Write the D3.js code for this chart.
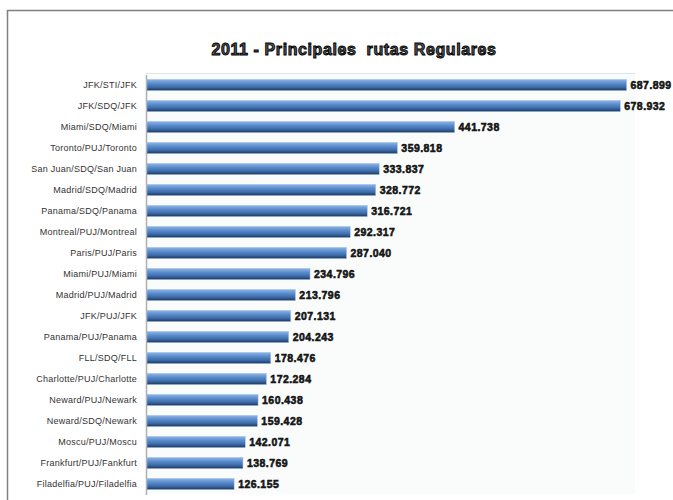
<!DOCTYPE html>
<html>
<head>
<meta charset="utf-8">
<script src="https://cdn.jsdelivr.net/npm/d3@7"></script>
<style>
  body { margin: 0; background: #fff; }
  svg { display: block; font-family: "Liberation Sans", Arial, sans-serif; }
</style>
</head>
<body>
<script>
var title = "2011 - Principales  rutas Regulares";

var routes = [
  "JFK/STI/JFK", "JFK/SDQ/JFK", "Miami/SDQ/Miami", "Toronto/PUJ/Toronto",
  "San Juan/SDQ/San Juan", "Madrid/SDQ/Madrid", "Panama/SDQ/Panama",
  "Montreal/PUJ/Montreal", "Paris/PUJ/Paris", "Miami/PUJ/Miami",
  "Madrid/PUJ/Madrid", "JFK/PUJ/JFK", "Panama/PUJ/Panama", "FLL/SDQ/FLL",
  "Charlotte/PUJ/Charlotte", "Neward/PUJ/Newark", "Neward/SDQ/Newark",
  "Moscu/PUJ/Moscu", "Frankfurt/PUJ/Fankfurt", "Filadelfia/PUJ/Filadelfia"
];

var passengers = [
  687.899, 678.932, 441.738, 359.818, 333.837, 328.772, 316.721, 292.317,
  287.040, 234.796, 213.796, 207.131, 204.243, 178.476, 172.284, 160.438,
  159.428, 142.071, 138.769, 126.155
];

var valueLabels = [
  "687.899", "678.932", "441.738", "359.818", "333.837", "328.772", "316.721",
  "292.317", "287.040", "234.796", "213.796", "207.131", "204.243", "178.476",
  "172.284", "160.438", "159.428", "142.071", "138.769", "126.155"
];

var width = 673, height = 500;
var plot = {left: 146, right: 635, top: 74, bottom: 494};

var svg = d3.select("body").append("svg")
    .attr("width", width)
    .attr("height", height);

// bar gradient
var grad = svg.append("defs").append("linearGradient")
    .attr("id", "barGrad")
    .attr("x1", 0).attr("y1", 0).attr("x2", 0).attr("y2", 1);
grad.append("stop").attr("offset", "0%").attr("stop-color", "#8fb4e3");
grad.append("stop").attr("offset", "35%").attr("stop-color", "#5b8dce");
grad.append("stop").attr("offset", "70%").attr("stop-color", "#3c6aa8");
grad.append("stop").attr("offset", "100%").attr("stop-color", "#1d3658");

// outer frame
svg.append("path")
    .attr("d", "M7.5,500 L7.5,10.5 L673,10.5")
    .attr("fill", "none")
    .attr("stroke", "#808080")
    .attr("stroke-width", 1.5);

// plot area background
svg.append("rect")
    .attr("x", plot.left)
    .attr("y", plot.top)
    .attr("width", plot.right - plot.left)
    .attr("height", plot.bottom - plot.top)
    .attr("fill", "#fafcfc");

svg.append("line")
    .attr("x1", plot.left).attr("x2", plot.right)
    .attr("y1", plot.top - 0.5).attr("y2", plot.top - 0.5)
    .attr("stroke", "#dde3ea");

var x = d3.scaleLinear().domain([0, 700]).range([plot.left, plot.right]);
var y = d3.scaleBand().domain(routes).range([plot.top + 0.5, plot.bottom + 0.5]).paddingInner(0.47).paddingOuter(0.235);

svg.append("text")
    .attr("x", 354)
    .attr("y", 55)
    .attr("text-anchor", "middle")
    .style("font-size", "16px")
    .style("font-weight", "bold")
    .style("letter-spacing", "0.6px")
    .style("fill", "#555")
    .style("stroke", "#000")
    .style("stroke-width", 0.9)
    .style("white-space", "pre")
    .text(title);

var yAxis = d3.axisLeft(y).tickSize(0).tickPadding(9);

var gy = svg.append("g")
    .attr("transform", "translate(" + plot.left + ",0)")
    .call(yAxis);
gy.select(".domain").attr("stroke", "#b0b0b0").attr("stroke-width", 1.5);
gy.selectAll("text")
    .style("font-size", "9px")
    .style("letter-spacing", "0.25px")
    .style("fill", "#333");

svg.selectAll(".bar")
    .data(passengers)
  .enter().append("rect")
    .attr("class", "bar")
    .attr("x", x(0) + 1)
    .attr("y", function(d, i) { return y(routes[i]); })
    .attr("width", function(d) { return x(d) - x(0) - 1; })
    .attr("height", y.bandwidth())
    .attr("fill", "url(#barGrad)")
    .attr("stroke", "#9cc0ea")
    .attr("stroke-width", 0.5);

svg.selectAll(".val")
    .data(passengers)
  .enter().append("text")
    .attr("class", "val")
    .attr("x", function(d) { return x(d) + 4; })
    .attr("y", function(d, i) { return y(routes[i]) + y.bandwidth() / 2; })
    .attr("dy", "0.36em")
    .style("font-size", "10.5px")
    .style("font-weight", "bold")
    .style("letter-spacing", "0.45px")
    .style("fill", "#222")
    .style("stroke", "#000")
    .style("stroke-width", 0.5)
    .text(function(d, i) { return valueLabels[i]; });
</script>
</body>
</html>
